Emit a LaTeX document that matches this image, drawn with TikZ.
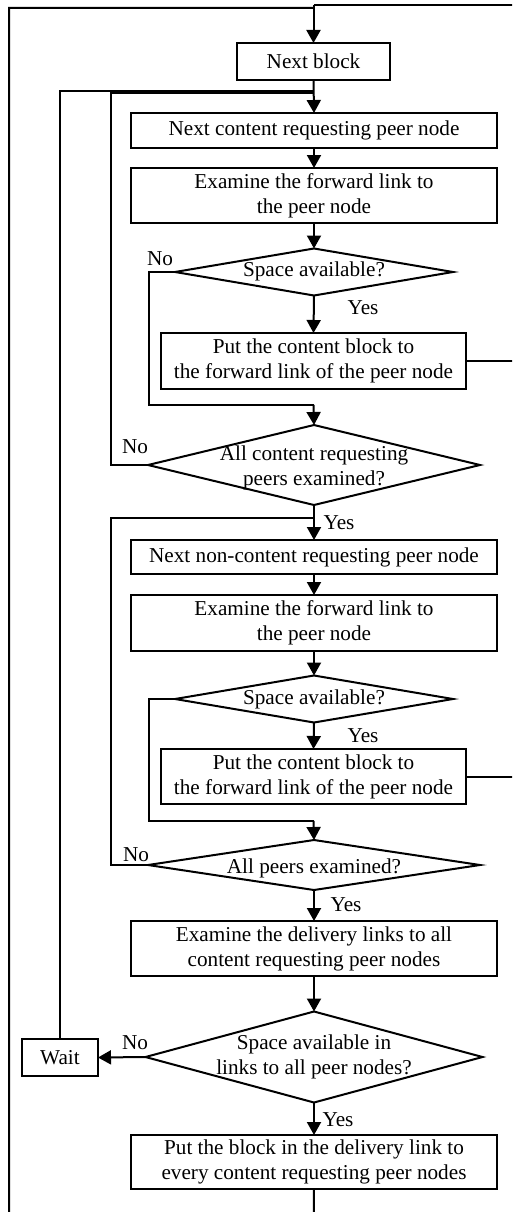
\documentclass[tikz,border=0pt]{standalone}
\usepackage{fontspec}
\setmainfont{Liberation Serif}
\usetikzlibrary{shapes.geometric,arrows.meta}
\newcommand\myfs{\fontsize{21.2pt}{25pt}\selectfont}
\begin{document}
\begin{tikzpicture}[x=1pt,y=-1pt,line width=2pt,
  box/.style 2 args={draw,rectangle,minimum width=#1,minimum height=#2,inner sep=0pt,outer sep=0pt,align=center,font=\myfs},
  dia/.style 2 args={draw,diamond,minimum width=#1,minimum height=#2,inner sep=0pt,outer sep=0pt},
  dtext/.style={align=center,font=\myfs,inner sep=0pt},
  lbl/.style={font=\myfs,inner sep=0pt},
  arr/.style={-{Triangle[length=13pt,width=14pt]}}]
\useasboundingbox (0,0) rectangle (512,1212);
\clip (0,0) rectangle (512,1212);

% nodes
\node[box={153pt}{37pt}] (nb) at (313.5,61.5) {Next block};
\node[box={366pt}{35pt}] (n1) at (314,130.5) {Next content requesting peer node};
\node[box={366pt}{55pt}] (e1) at (314,195.5) {Examine the forward link to\\the peer node};
\node[dia={278pt}{47pt}] (d1) at (314,272) {};
\node[dtext] (d1t) at (314,271) {Space available?};
\node[box={305pt}{56pt}] (p1) at (313.5,361) {Put the content block to\\the forward link of the peer node};
\node[dia={332pt}{80pt}] (d2) at (314,465) {};
\node[dtext] (d2t) at (314,468) {All content requesting\\peers examined?};
\node[box={366pt}{34pt}] (n2) at (314,557) {Next non-content requesting peer node};
\node[box={366pt}{56pt}] (e2) at (314,623) {Examine the forward link to\\the peer node};
\node[dia={278pt}{47pt}] (d3) at (314,699) {};
\node[dtext] (d3t) at (314,699) {Space available?};
\node[box={305pt}{55pt}] (p2) at (313.5,776.5) {Put the content block to\\the forward link of the peer node};
\node[dia={332pt}{50pt}] (d4) at (314,865) {};
\node[dtext] (d4t) at (314,868) {All peers examined?};
\node[box={366pt}{55pt}] (e3) at (314,948.5) {Examine the delivery links to all\\content requesting peer nodes};
\node[dia={337pt}{91pt}] (d5) at (314,1057) {};
\node[dtext] (d5t) at (314,1057) {Space available in\\links to all peer nodes?};
\node[box={76pt}{37pt}] (w) at (60,1057.5) {Wait};
\node[box={366pt}{54pt}] (p3) at (314,1162) {Put the block in the delivery link to\\every content requesting peer nodes};

% labels
\node[lbl] (l1) at (160,259) {No};
\node[lbl] (l2) at (363,308) {Yes};
\node[lbl] (l3) at (135,447) {No};
\node[lbl] (l4) at (339,523) {Yes};
\node[lbl] (l5) at (363,736) {Yes};
\node[lbl] (l6) at (136,855) {No};
\node[lbl] (l7) at (346,905) {Yes};
\node[lbl] (l8) at (135,1043) {No};
\node[lbl] (l9) at (338,1120) {Yes};

% junction coordinates
\coordinate (tR) at (313.5,5.5);
\coordinate (tL) at (313.5,8);
\coordinate (j1) at (313.5,90.7);
\coordinate (j2) at (313.5,92.7);
\coordinate (j3) at (313.5,405);
\coordinate (j4) at (313.5,518);
\coordinate (j5) at (313.5,821);
\coordinate (bot) at (313.5,1240);

% connectors
\draw[arr] (tR) -- (nb.north);
\draw (p1.east) -- (530,361) |- (tR);
\draw (p2.east) -| (530,361);
\draw (p3.south) -- (bot) -| (9,8) -- (tL);
\draw[arr] (nb.south) -- (n1.north);
\draw (w.north) |- (j1);
\draw (d2.west) -- (111,465) |- (j2);
\draw[arr] (n1.south) -- (e1.north);
\draw[arr] (e1.south) -- (d1.north);
\draw[arr] (d1.south) -- (p1.north);
\draw (d1.west) -- (149,272) |- (j3);
\draw[arr] (j3) -- (d2.north);
\draw[arr] (d2.south) -- (n2.north);
\draw (d4.west) -- (111,865) |- (j4);
\draw[arr] (n2.south) -- (e2.north);
\draw[arr] (e2.south) -- (d3.north);
\draw[arr] (d3.south) -- (p2.north);
\draw (d3.west) -- (149,699) |- (j5);
\draw[arr] (j5) -- (d4.north);
\draw[arr] (d4.south) -- (e3.north);
\draw[arr] (e3.south) -- (d5.north);
\draw[arr] (d5.south) -- (p3.north);
\draw[arr] (d5.west) -- (w.east);
\end{tikzpicture}
\end{document}
